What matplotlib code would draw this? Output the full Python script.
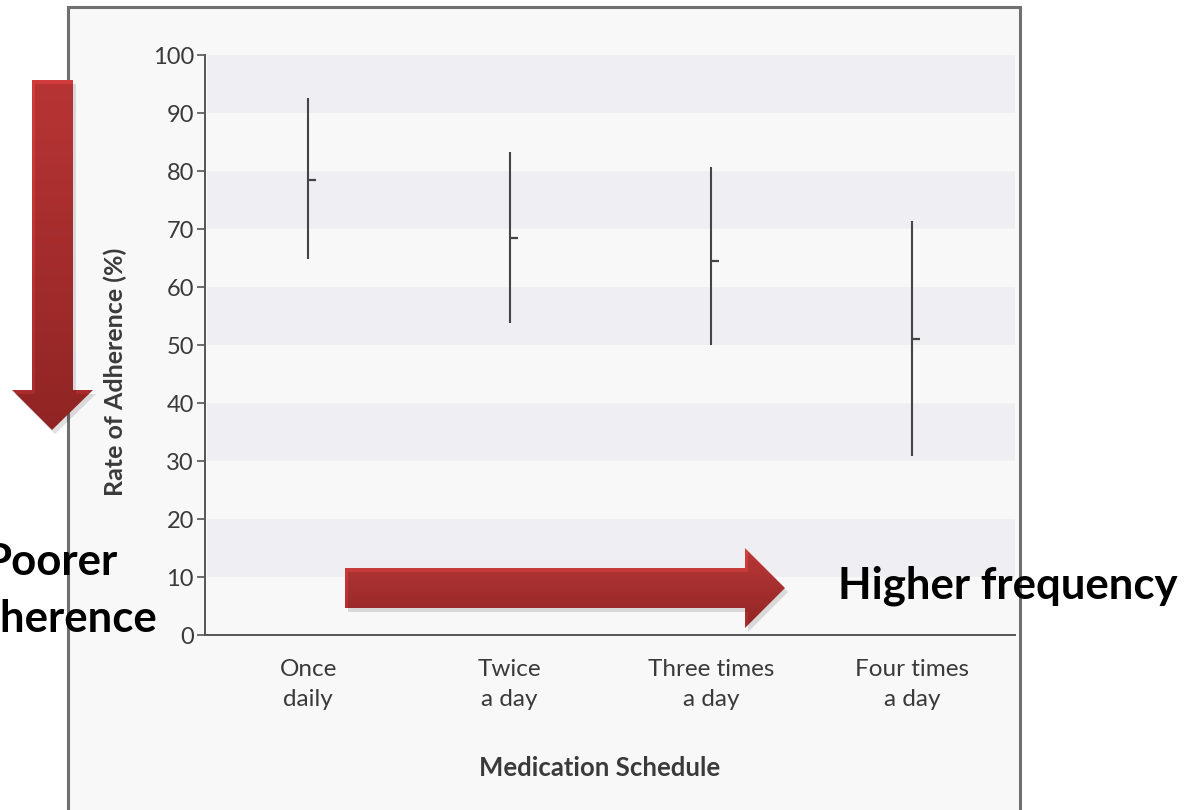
import numpy as np
import matplotlib
matplotlib.use("Agg")
import matplotlib.pyplot as plt
from matplotlib.patches import Polygon, Rectangle

# ── Data ───────────────────────────────────────────────────────────────────────
schedules = ["Once\ndaily", "Twice\na day", "Three times\na day", "Four times\na day"]
adherence_mean = [78.5, 68.5, 64.5, 51.0]
adherence_low = [64.8, 53.8, 50.0, 30.8]
adherence_high = [92.6, 83.2, 80.7, 71.3]
y_ticks = [0, 10, 20, 30, 40, 50, 60, 70, 80, 90, 100]
band_edges = [(10, 20), (30, 40), (50, 60), (70, 80), (90, 100)]

W, H = 1184, 810
LABEL_FONT = ["Lato", "DejaVu Sans"]
CALLOUT_FONT = ["Lato", "DejaVu Sans"]
INK = "#3a3a3a"

fig = plt.figure(figsize=(W / 100, H / 100), dpi=100)
fig.patch.set_facecolor("white")

# ── Background frame (pixel coordinates) ──────────────────────────────────────
bg = fig.add_axes([0, 0, 1, 1], zorder=-1)
bg.set_xlim(0, W)
bg.set_ylim(H, 0)
bg.axis("off")
bg.add_patch(Rectangle((68, 7), 952, 820, facecolor="#f8f8f8",
                       edgecolor="#707070", linewidth=2.2))

# ── Main chart ────────────────────────────────────────────────────────────────
def fx(px):
    return px / W


def fy(py):
    return 1 - py / H


ax = fig.add_axes([fx(205), fy(635), fx(1015) - fx(205), fy(55) - fy(635)])
ax.set_facecolor("none")
x = np.arange(len(schedules))
ax.set_xlim(-0.512, 3.51)
ax.set_ylim(0, 100)

for lo, hi in band_edges:
    ax.axhspan(lo, hi, xmin=0.003, xmax=1, color="#efeff3", lw=0, zorder=0)

ax.vlines(x, adherence_low, adherence_high, color="#444444", lw=1.5, zorder=3)
ax.hlines(adherence_mean, x, x + 0.04, color="#444444", lw=1.6, zorder=3)

for s in ["top", "right"]:
    ax.spines[s].set_visible(False)
for s in ["left", "bottom"]:
    ax.spines[s].set_color("#555555")
    ax.spines[s].set_linewidth(1.4)

ax.set_yticks(y_ticks)
ax.set_yticklabels([str(t) for t in y_ticks], family=LABEL_FONT, fontsize=17, color=INK)
ax.tick_params(axis="y", direction="out", length=6, width=1.2, color="#555555", pad=2)
ax.set_xticks(x)
ax.set_xticklabels(schedules, family=LABEL_FONT, fontsize=17.5, color=INK, linespacing=1.55)
ax.tick_params(axis="x", length=0, pad=17)

fig.text(fx(115), fy(372), "Rate of Adherence (%)", rotation=90, ha="center", va="center",
         family=LABEL_FONT, fontsize=18, fontweight="bold", color=INK)
fig.text(fx(600), fy(768), "Medication Schedule", ha="center", va="center",
         family=LABEL_FONT, fontsize=18.5, fontweight="bold", color=INK)

# ── Overlay arrows and callouts ───────────────────────────────────────────────
ov = fig.add_axes([0, 0, 1, 1], zorder=5)
ov.set_xlim(0, W)
ov.set_ylim(H, 0)
ov.axis("off")
ov.patch.set_alpha(0)


def gradient_arrow(verts, light, dark):
    verts = np.array(verts, dtype=float)
    shadow = Polygon(verts + [3, 4], closed=True, facecolor="#000000", alpha=0.12, lw=0)
    ov.add_patch(shadow)
    poly = Polygon(verts, closed=True, facecolor="none", lw=0)
    ov.add_patch(poly)
    x0, y0 = verts.min(axis=0)
    x1, y1 = verts.max(axis=0)
    t = np.linspace(0, 1, 256)
    c0 = np.array(matplotlib.colors.to_rgb(light))
    c1 = np.array(matplotlib.colors.to_rgb(dark))
    grad = c0[None, :] * (1 - t[:, None]) + c1[None, :] * t[:, None]
    im = ov.imshow(grad[:, None, :], extent=(x0, x1, y1, y0), origin="upper",
                   aspect="auto", interpolation="bilinear")
    im.set_clip_path(poly)


gradient_arrow([(32, 80), (73, 80), (73, 390), (93, 390), (52, 430), (12, 390), (32, 390)],
               "#d23c3c", "#a52a2a")
gradient_arrow([(345, 568), (745, 568), (745, 548), (785, 588), (745, 628), (745, 608), (345, 608)],
               "#d24040", "#a82b2b")
ov.set_xlim(0, W)
ov.set_ylim(H, 0)

ov.text(118, 575, "Poorer", ha="right", va="baseline", family=CALLOUT_FONT,
        fontsize=31.5, fontweight="bold", color="black")
ov.text(158, 632, "adherence", ha="right", va="baseline", family=CALLOUT_FONT,
        fontsize=31.5, fontweight="bold", color="black")
ov.text(838, 599, "Higher frequency", ha="left", va="baseline", family=CALLOUT_FONT,
        fontsize=31.5, fontweight="bold", color="black")

fig.savefig("out.png", dpi=100)
